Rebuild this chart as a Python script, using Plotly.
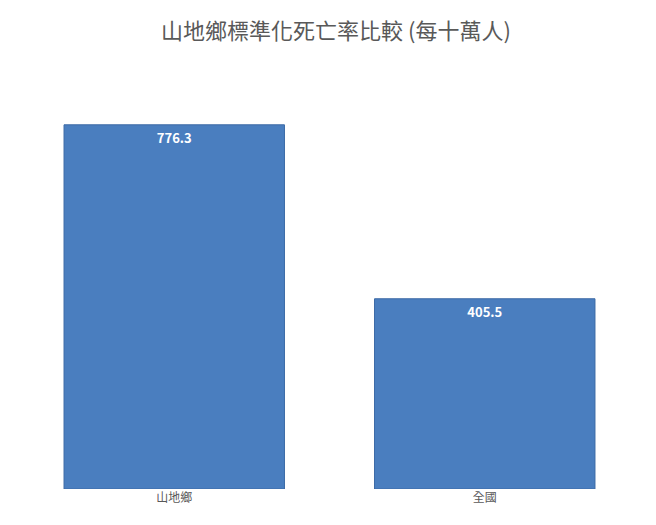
import plotly.graph_objects as go

categories = ["山地鄉", "全國"]
rates = [776.3, 405.5]
labels = ["<b>776.3</b>", "<b>405.5</b>"]

font_family = "Noto Sans CJK TC"

fig = go.Figure()
fig.add_bar(
    x=categories,
    y=rates,
    text=labels,
    textposition="inside",
    insidetextanchor="end",
    textfont=dict(color="white", size=13, family=font_family),
    marker=dict(color="#4a7ebf", line=dict(color="#3c6aa6", width=1)),
    width=0.71,
)

fig.update_layout(
    width=656,
    height=525,
    margin=dict(l=11, r=24, t=78, b=44),
    paper_bgcolor="white",
    plot_bgcolor="white",
    showlegend=False,
    title=dict(
        text="山地鄉標準化死亡率比較 (每十萬人)",
        x=0.5,
        y=0.955,
        xanchor="center",
        yanchor="middle",
        font=dict(size=22, color="#595959", family=font_family),
    ),
    xaxis=dict(
        showline=False,
        tickfont=dict(size=12, color="#595959", family=font_family),
    ),
    yaxis=dict(range=[0, 859], visible=False),
)

fig.write_html("out.html")
